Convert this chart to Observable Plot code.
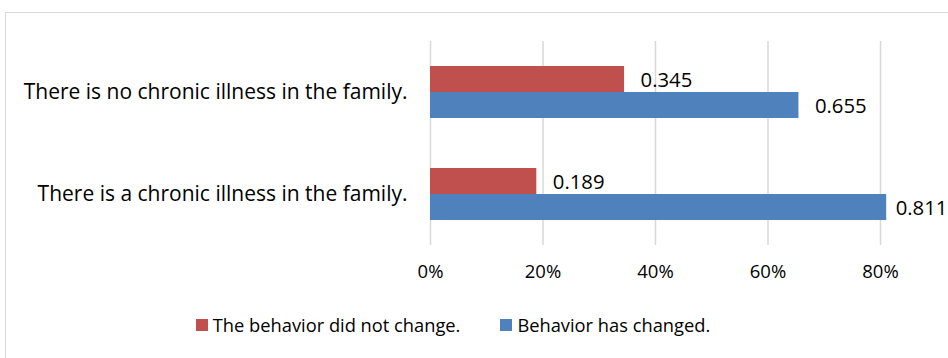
<!DOCTYPE html>
<html>
<head>
<meta charset="utf-8">
<script src="https://cdn.jsdelivr.net/npm/d3@7"></script>
<script src="https://cdn.jsdelivr.net/npm/@observablehq/plot@0.6"></script>
<style>
  html, body { margin: 0; padding: 0; background: #fff; overflow: hidden; }
  body { width: 948px; height: 358px; position: relative; font-family: "Open Sans", "Noto Sans", sans-serif; }
  #frame { position: absolute; left: 5px; top: 12px; width: 1000px; height: 400px; border: 1.5px solid #d9d9d9; box-sizing: border-box; }
  #chart { position: absolute; left: 0; top: 0; }
  #chart svg text { font-size: 18.5px; font-family: "Open Sans", "Noto Sans", sans-serif; }
  #chart svg g.cat text { font-size: 21px; }
  #chart svg g.val text { font-size: 20.3px; }
  #legend { position: absolute; left: 0; top: 312px; width: 906px; display: flex; justify-content: center; gap: 40px; font-size: 18.3px; color: #000; }
  .item { display: flex; align-items: center; }
  .sw { width: 12px; height: 12px; margin-right: 5px; }
</style>
</head>
<body>
<div id="frame"></div>
<div id="chart"></div>
<div id="legend"></div>
<script>
const categories = ["There is no chronic illness in the family.", "There is a chronic illness in the family."];
const series = ["The behavior did not change.", "Behavior has changed."];
const notChanged = [0.345, 0.189];
const changed = [0.655, 0.811];
const colors = ["#C0504D", "#4F81BD"];
const xTicks = [0, 0.2, 0.4, 0.6, 0.8];

const data = [];
categories.forEach((c, i) => {
  data.push({category: c, series: series[0], value: notChanged[i]});
  data.push({category: c, series: series[1], value: changed[i]});
});

const xMax = 0.8;

const chart = Plot.plot({
  width: 948,
  height: 290,
  marginTop: 41,
  marginBottom: 45,
  marginLeft: 430,
  marginRight: 68,
  style: {fontFamily: "'Open Sans', 'Noto Sans', sans-serif", fontSize: "18.5px", color: "#000", background: "transparent", overflow: "visible"},
  x: {domain: [0, xMax], ticks: xTicks, tickFormat: d => Math.round(d * 100) + "%", label: null},
  y: {domain: series, paddingInner: 0, paddingOuter: 0.96, axis: null},
  fy: {domain: categories, padding: 0, label: null},
  color: {domain: series, range: colors},
  marks: [
    Plot.gridX(xTicks, {stroke: "#d9d9d9", strokeOpacity: 1, strokeWidth: 1.5}),
    Plot.axisX(xTicks, {tickSize: 0, tickPadding: 19, tickFormat: d => Math.round(d * 100) + "%", label: null}),
    Plot.axisFy({anchor: "left", tickSize: 0, tickPadding: 23, label: null, className: "cat"}),
    Plot.barX(data, {fy: "category", y: "series", x: "value", fill: "series"}),
    Plot.text(data.filter(d => d.value <= xMax), {fy: "category", y: "series", x: "value", text: d => String(d.value), textAnchor: "start", dx: 16, dy: 1, fill: "#000", className: "val"}),
    Plot.text(data.filter(d => d.value > xMax), {fy: "category", y: "series", x: "value", text: d => String(d.value), textAnchor: "start", dx: 9, dy: 1, fill: "#000", className: "val"})
  ]
});
document.getElementById("chart").appendChild(chart);

const legend = document.getElementById("legend");
series.forEach((s, i) => {
  const it = document.createElement("div");
  it.className = "item";
  const sw = document.createElement("div");
  sw.className = "sw";
  sw.style.background = colors[i];
  const t = document.createElement("span");
  t.textContent = s;
  it.appendChild(sw);
  it.appendChild(t);
  legend.appendChild(it);
});
</script>
</body>
</html>
